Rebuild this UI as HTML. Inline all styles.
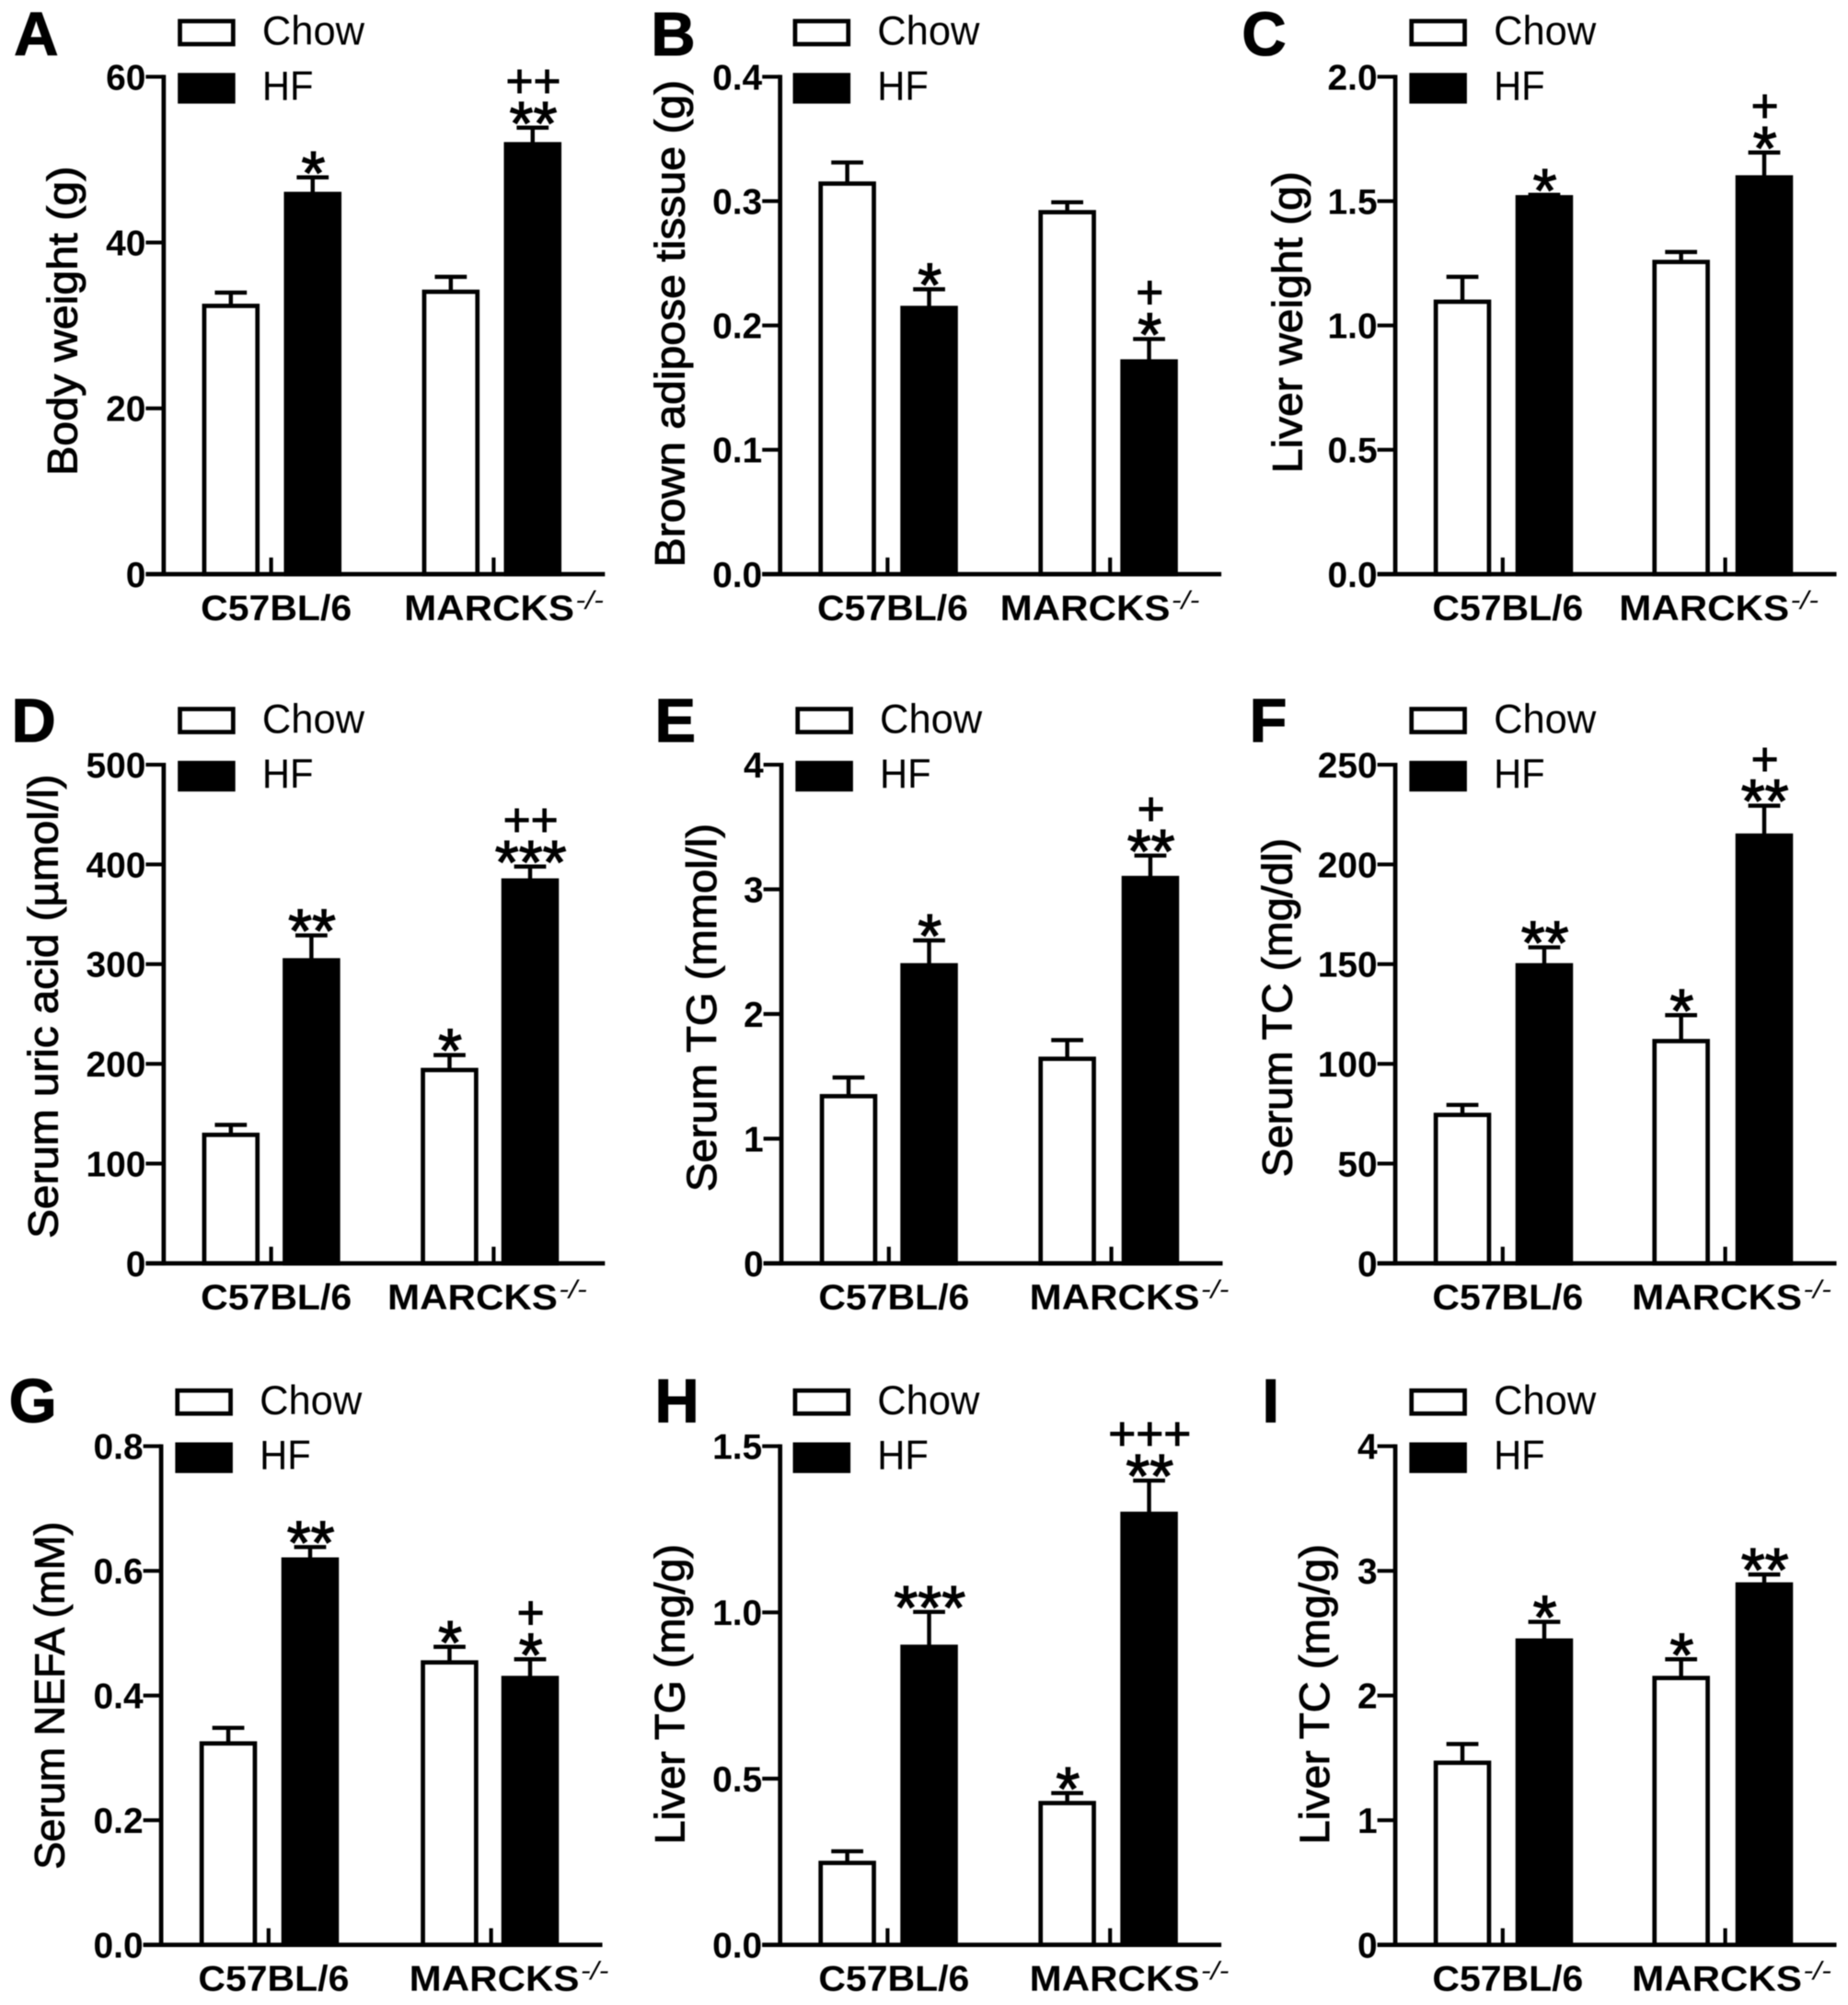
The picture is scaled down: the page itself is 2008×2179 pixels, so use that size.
<!DOCTYPE html>
<html lang="en">
<head>
<meta charset="utf-8">
<title>Metabolic parameters in C57BL/6 and MARCKS-/- mice</title>
<style>
html,body{margin:0;padding:0;background:#fff;}
#figure{display:block;width:2008px;height:2179px;background:#fff;filter:blur(0.6px);}
text{font-family:"Liberation Sans",sans-serif;fill:#000;}
</style>
</head>
<body>
<svg id="figure" xmlns="http://www.w3.org/2000/svg" width="2008" height="2179" viewBox="0 0 1445 1568"></svg>
<script>
// Panel A
const aTicks = ['0','20','40','60'];
const aChow = [32.5, 34.2];
const aChowErr = [1.6, 1.8];
const aHF = [46, 52];
const aHFErr = [2, 2];
const aMarks = ['', '*', '', '**|++'];
// Panel B
const bTicks = ['0.0','0.1','0.2','0.3','0.4'];
const bChow = [0.315, 0.292];
const bChowErr = [0.017, 0.008];
const bHF = [0.215, 0.172];
const bHFErr = [0.015, 0.018];
const bMarks = ['', '*', '', '*|+'];
// Panel C
const cTicks = ['0.0','0.5','1.0','1.5','2.0'];
const cChow = [1.1, 1.26];
const cChowErr = [0.1, 0.04];
const cHF = [1.52, 1.6];
const cHFErr = [0.01, 0.1];
const cMarks = ['', '*', '', '*|+'];
// Panel D
const dTicks = ['0','100','200','300','400','500'];
const dChow = [130, 195];
const dChowErr = [10, 15];
const dHF = [305, 385];
const dHFErr = [25, 14];
const dMarks = ['', '**', '*', '***|++'];
// Panel E
const eTicks = ['0','1','2','3','4'];
const eChow = [1.35, 1.65];
const eChowErr = [0.15, 0.15];
const eHF = [2.4, 3.1];
const eHFErr = [0.2, 0.18];
const eMarks = ['', '*', '', '**|+'];
// Panel F
const fTicks = ['0','50','100','150','200','250'];
const fChow = [75, 112];
const fChowErr = [5, 13];
const fHF = [150, 215];
const fHFErr = [9, 15];
const fMarks = ['', '**', '*', '**|+'];
// Panel G
const gTicks = ['0.0','0.2','0.4','0.6','0.8'];
const gChow = [0.325, 0.455];
const gChowErr = [0.025, 0.025];
const gHF = [0.62, 0.43];
const gHFErr = [0.02, 0.03];
const gMarks = ['', '**', '*', '*|+'];
// Panel H
const hTicks = ['0.0','0.5','1.0','1.5'];
const hChow = [0.25, 0.43];
const hChowErr = [0.035, 0.03];
const hHF = [0.9, 1.3];
const hHFErr = [0.105, 0.1];
const hMarks = ['', '***', '*', '**|+++'];
// Panel I
const iTicks = ['0','1','2','3','4'];
const iChow = [1.47, 2.15];
const iChowErr = [0.15, 0.15];
const iHF = [2.45, 2.9];
const iHFErr = [0.15, 0.08];
const iMarks = ['', '*', '*', '**'];

const legendLabels = ['Chow', 'HF'];
const groupLabels = ['C57BL/6', 'MARCKS'];

const svg = document.getElementById('figure');
const NS = 'http://www.w3.org/2000/svg';

function make(tag, attrs, parent, txt) {
  const n = document.createElementNS(NS, tag);
  for (const k in attrs) n.setAttribute(k, attrs[k]);
  if (txt !== undefined) n.textContent = txt;
  parent.appendChild(n);
  return n;
}

function drawPanel(p) {
  const g = make('g', {}, svg);
  
  

  const maxV = parseFloat(p.ticks[p.ticks.length - 1]);
  const yOf = function (v) { return p.y0 - (v / maxV) * (p.y0 - p.top); };
  const ax = p.ax;

  const letter = make('text', {x: p.lx, y: p.ly, 'font-size': 48, 'font-weight': 'bold', stroke: '#000', 'stroke-width': 0.8}, g, p.letter);
  
  

  // legend
  const lx = p.legX, lw = 45;
  const sw1 = make('rect', {x: lx + 1.7, y: p.top - 43.5, width: lw - 3.4, height: 18, fill: '#fff', stroke: '#000', 'stroke-width': 3.4}, g);
  
  
  const sw2 = make('rect', {x: lx, y: p.top - 3, width: lw, height: 24, fill: '#000'}, g);
  
  
  const lt1 = make('text', {x: lx + 66, y: p.top - 25, 'font-size': 32, 'textLength': 80, lengthAdjust: 'spacingAndGlyphs'}, g, legendLabels[0]);
  
  
  const lt2 = make('text', {x: lx + 66, y: p.top + 18, 'font-size': 32, 'textLength': 40, lengthAdjust: 'spacingAndGlyphs'}, g, legendLabels[1]);
  
  

  // y-axis title
  const ty = make('text', {
    transform: 'translate(' + p.tx + ',' + p.tc + ') rotate(-90)',
    'text-anchor': 'middle', 'font-size': 33, textLength: p.tl, lengthAdjust: 'spacingAndGlyphs',
    stroke: '#000', 'stroke-width': 0.7
  }, g, p.title);
  
  

  // bars
  const xs = p.bars;
  const names = ['c57-chow', 'c57-hf', 'marcks-chow', 'marcks-hf'];
  const vals = [p.chow[0], p.hf[0], p.chow[1], p.hf[1]];
  const errs = [p.chowErr[0], p.hfErr[0], p.chowErr[1], p.hfErr[1]];
  vals.forEach(function (v, i) {
    const cx = xs[i] + 22.5;
    const yTop = yOf(v) + 0.9;
    const yErr = yOf(v + errs[i]) + 0.9;
    const stem = make('line', {x1: cx, x2: cx, y1: yTop, y2: yErr, stroke: '#000', 'stroke-width': 3.2}, g);
    
    
    const cap = make('line', {x1: cx - 12.5, x2: cx + 12.5, y1: yErr, y2: yErr, stroke: '#000', 'stroke-width': 3.2}, g);
    
    
    const black = i % 2 === 1;
    const bar = make('rect', {
      x: xs[i] + 1.7, y: yTop, width: 45 - 3.4, height: p.y0 - yTop,
      fill: black ? '#000' : '#fff', stroke: '#000', 'stroke-width': 3.4
    }, g);
    
    

    const mk = p.marks[i];
    if (mk) {
      const parts = mk.split('|');
      const stars = make('text', {
        x: cx + 0.5, y: yErr - 13 + 26, 'text-anchor': 'middle', 'font-size': 48,
        stroke: '#000', 'stroke-width': 0.9
      }, g, parts[0]);
      
      
      if (parts[1]) {
        const plus = make('text', {
          x: cx + 0.5, y: yErr - 36 + 12, 'text-anchor': 'middle', 'font-size': 37,
          stroke: '#000', 'stroke-width': 0.7
        }, g, parts[1]);
        
        
      }
    }
  });

  // notch ticks on the x-axis
  [ax + 84, ax + 258].forEach(function (nx) {
    const notch = make('line', {x1: nx, x2: nx, y1: p.y0 - 13, y2: p.y0, stroke: '#000', 'stroke-width': 3}, g);
    
    
  });

  // axes
  const yAxis = make('line', {x1: ax, x2: ax, y1: p.top - 1.5, y2: p.y0 + 1.5, stroke: '#000', 'stroke-width': 3.4}, g);
  
  
  const xAxis = make('line', {x1: ax - 14, x2: ax + 345, y1: p.y0, y2: p.y0, stroke: '#000', 'stroke-width': 3.4}, g);
  
  

  p.ticks.forEach(function (t) {
    const y = yOf(parseFloat(t));
    const tick = make('line', {x1: ax - 14, x2: ax, y1: y, y2: y, stroke: '#000', 'stroke-width': 3}, g);
    
    
    const lab = make('text', {x: ax - 14, y: y + 10, 'text-anchor': 'end', 'font-size': 28, 'font-weight': 'bold'}, g, t);
    
    
  });

  // group labels
  const gy = p.y0 + 36;
  const c57 = make('text', {x: p.gx[0], y: gy, 'font-size': 28, 'font-weight': 'bold', textLength: 118, lengthAdjust: 'spacingAndGlyphs'}, g, groupLabels[0]);
  
  
  const mar = make('text', {x: p.gx[1], y: gy, 'font-size': 28, 'font-weight': 'bold', textLength: 133, lengthAdjust: 'spacingAndGlyphs'}, g, groupLabels[1]);
  
  
  const sup = make('text', {x: p.gx[1] + 134, y: gy - 9, 'font-size': 20, 'font-style': 'italic', textLength: 22, lengthAdjust: 'spacingAndGlyphs'}, g, '-/-');
  
  
}

drawPanel({letter:'A', lx:11, ly:43, ax:128, top:60, y0:449, legX:139, ticks:aTicks, chow:aChow, chowErr:aChowErr, hf:aHF, hfErr:aHFErr, marks:aMarks,
  bars:[158,222,330,394], title:'Body weight (g)', tx:60, tc:251, tl:242, gx:[157,316]});
drawPanel({letter:'B', lx:509, ly:43, ax:610, top:60, y0:449, legX:620, ticks:bTicks, chow:bChow, chowErr:bChowErr, hf:bHF, hfErr:bHFErr, marks:bMarks,
  bars:[640,704,812,876], title:'Brown adipose tissue (g)', tx:535, tc:253, tl:381, gx:[639,782]});
drawPanel({letter:'C', lx:971, ly:43, ax:1091, top:60, y0:449, legX:1102, ticks:cTicks, chow:cChow, chowErr:cChowErr, hf:cHF, hfErr:cHFErr, marks:cMarks,
  bars:[1121,1185,1292,1357], title:'Liver weight (g)', tx:1018, tc:252, tl:236, gx:[1120,1266]});
drawPanel({letter:'D', lx:9, ly:580, ax:128, top:598, y0:988, legX:139, ticks:dTicks, chow:dChow, chowErr:dChowErr, hf:dHF, hfErr:dHFErr, marks:dMarks,
  bars:[158,221,329,392], title:'Serum uric acid (\u00b5mol/l)', tx:45, tc:787, tl:363, gx:[157,303]});
drawPanel({letter:'E', lx:512, ly:580, ax:611, top:598, y0:988, legX:622, ticks:eTicks, chow:eChow, chowErr:eChowErr, hf:eHF, hfErr:eHFErr, marks:eMarks,
  bars:[641,704,812,877], title:'Serum TG (mmol/l)', tx:560, tc:788, tl:288, gx:[640,805]});
drawPanel({letter:'F', lx:977, ly:580, ax:1091, top:598, y0:988, legX:1102, ticks:fTicks, chow:fChow, chowErr:fChowErr, hf:fHF, hfErr:fHFErr, marks:fMarks,
  bars:[1121,1185,1292,1357], title:'Serum TC (mg/dl)', tx:1010, tc:788, tl:265, gx:[1120,1276]});
drawPanel({letter:'G', lx:7, ly:1112, ax:126, top:1131, y0:1521, legX:137, ticks:gTicks, chow:gChow, chowErr:gChowErr, hf:gHF, hfErr:gHFErr, marks:gMarks,
  bars:[156,220,329,392], title:'Serum NEFA (mM)', tx:50, tc:1326, tl:272, gx:[155,320]});
drawPanel({letter:'H', lx:512, ly:1112, ax:610, top:1131, y0:1521, legX:620, ticks:hTicks, chow:hChow, chowErr:hChowErr, hf:hHF, hfErr:hHFErr, marks:hMarks,
  bars:[640,704,812,876], title:'Liver TG (mg/g)', tx:535, tc:1325, tl:235, gx:[640,805]});
drawPanel({letter:'I', lx:987, ly:1112, ax:1091, top:1131, y0:1521, legX:1102, ticks:iTicks, chow:iChow, chowErr:iChowErr, hf:iHF, hfErr:iHFErr, marks:iMarks,
  bars:[1121,1185,1292,1357], title:'Liver TC (mg/g)', tx:1039, tc:1325, tl:235, gx:[1120,1276]});
</script>
</body>
</html>
